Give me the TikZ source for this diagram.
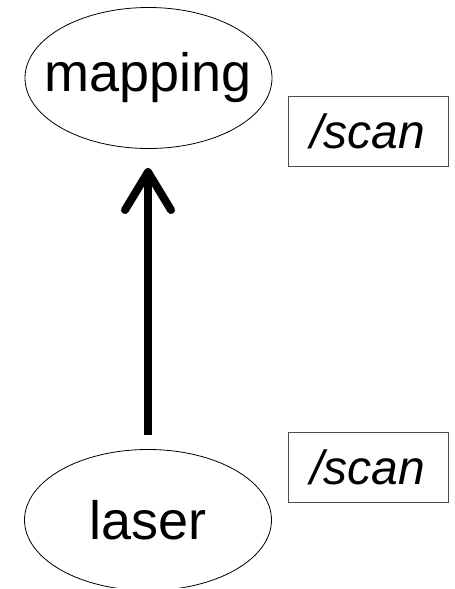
\documentclass[tikz,border=0pt]{standalone}
\usepackage{fontspec}
\setmainfont{Liberation Sans}
\usetikzlibrary{shapes.geometric,arrows.meta}
\begin{document}
\begin{tikzpicture}[x=1pt,y=-1pt,
  nodeell/.style={draw=black,line width=0.8pt,ellipse,minimum width=247pt,minimum height=141pt,inner sep=0pt,font=\fontsize{54}{60}\selectfont},
  topicbox/.style={draw=black!70,line width=0.8pt,rectangle,minimum width=160pt,minimum height=70pt,inner sep=0pt,font=\fontsize{48}{54}\selectfont\itshape},
  flow/.style={line width=8pt,-{Straight Barb[length=38pt,width=46pt,round]}}]
\useasboundingbox (0,0) rectangle (455,589);
\begin{scope}
\clip (0,0) rectangle (455,587);
\node[nodeell] (mapping) at (148.5,78) {\makebox[0pt]{mapping}};
\node[nodeell] (laser) at (148,520) {\makebox[0pt]{laser}};
\end{scope}
\node[topicbox] (scan1) at (368,131) {/scan};
\node[topicbox] (scan2) at (368,467.5) {/scan};
\coordinate (tail) at (148,435);
\coordinate (tip) at (148,168);
\draw[flow] (tail) -- (tip);
\end{tikzpicture}
\end{document}
